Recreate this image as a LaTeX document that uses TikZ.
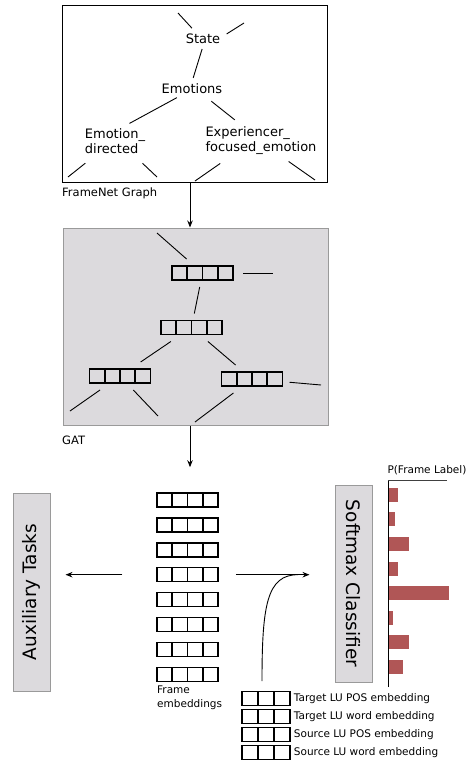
\documentclass[tikz,border=0pt]{standalone}
\usepackage{fontspec}
\setmainfont{DejaVu Sans}
\usetikzlibrary{arrows.meta,calc}
\definecolor{boxgray}{HTML}{DCDADD}
\definecolor{edgegray}{HTML}{9A9A9A}
\definecolor{barred}{HTML}{B05656}
\tikzset{
  treetxt/.style={font=\fontsize{13}{15}\selectfont, inner sep=2pt, align=left},
  lbl/.style={font=\fontsize{11.5}{13}\selectfont, inner sep=0pt, anchor=west},
  smalltxt/.style={font=\fontsize{10.5}{14}\selectfont, inner sep=0pt},
  bigtxt/.style={font=\fontsize{18.5}{22}\selectfont},
  vec/.style={draw, line width=1.5pt, minimum height=14pt, inner sep=0pt,
    path picture={\foreach \k in {1,...,#1}{\draw[line width=1.9pt]
      ($(path picture bounding box.south west)!\k/#1!(path picture bounding box.south east)$) --
      ($(path picture bounding box.north west)!\k/#1!(path picture bounding box.north east)$);}}},
  gvec/.style={vec=4, minimum width=61pt, outer sep=7pt},
  fvec/.style={vec=4, minimum width=61pt},
  lvec/.style={vec=3, minimum width=48pt},
  panel/.style={draw=edgegray, fill=boxgray, line width=1pt, inner sep=0pt},
  arr/.style={-{Stealth[length=7pt,width=5.5pt]}, line width=0.9pt},
  thin/.style={line width=0.9pt},
}
\begin{document}
\begin{tikzpicture}[x=1pt,y=-1pt]
\useasboundingbox (0,0) rectangle (469,761);

% ---------- FrameNet graph ----------
\node[draw, line width=0.9pt, minimum width=265, minimum height=177, inner sep=0pt, outer sep=0pt] (fn) at (194.5,93.5) {};
\node[treetxt] (state) at (203,39) {State};
\node[treetxt] (emo) at (192,89) {Emotions};
\node[treetxt] (ed) at (115,141) {Emotion\_\\directed};
\node[treetxt] (ef) at (261,141) {Experiencer\_\\focused\_emotion};
\node[lbl] (fnlabel) at (62,193) {FrameNet Graph};

\coordinate (d1) at (178,13);
\coordinate (d2) at (244,23);
\coordinate (d3) at (68,177);
\coordinate (d4) at (157,177);
\coordinate (d5) at (195,181);
\coordinate (d6) at (315,180);
\draw[thin, shorten >=5pt] (d1) -- (state.137);
\draw[thin, shorten >=5pt] (d2) -- (state.7);
\draw[thin, shorten <=3pt, shorten >=4pt] (state.-90) -- (emo.90);
\draw[thin, shorten <=3pt, shorten >=6pt] (emo.210) -- (ed.58);
\draw[thin, shorten <=8pt, shorten >=8pt] (emo.-29) -- (ef.141);
\draw[thin, shorten <=12pt] (ed.216) -- (d3);
\draw[thin, shorten <=11pt] (ed.-37) -- (d4);
\draw[thin, shorten <=11pt] (ef.207) -- (d5);
\draw[thin, shorten <=7.5pt] (ef.-37) -- (d6);

% ---------- GAT ----------
\node[panel, minimum width=265, minimum height=197] (gat) at (195.5,326.5) {};
\node[lbl] (gatlabel) at (62,440) {GAT};
\node[gvec] (g1) at (202.5,273) {};
\node[gvec] (g2) at (191.5,327.5) {};
\node[gvec] (g3) at (120,376) {};
\node[gvec] (g4) at (252,379) {};
\coordinate (e1) at (157,233);
\coordinate (e2) at (273,273);
\coordinate (e3) at (321,385);
\coordinate (e4) at (70,411);
\coordinate (e5) at (158,416);
\coordinate (e6) at (195,422);
\draw[thin] (e1) -- (g1);
\draw[thin, shorten <=3pt] (g1.east) -- (e2);
\draw[thin] (g1) -- (g2);
\draw[thin] (g2) -- (g3);
\draw[thin] (g2) -- (g4);
\draw[thin] (g4) -- (e3);
\draw[thin] (g3) -- (e4);
\draw[thin] (g3) -- (e5);
\draw[thin] (g4) -- (e6);

% ---------- arrows between stages ----------
\coordinate (spine) at (190,0);
\draw[arr] (fn.south -| spine) -- (gat.north -| spine);

% ---------- frame embeddings ----------
\foreach \i in {1,...,8}
  \node[fvec] (fe\i) at (187.5,{500+24.9*(\i-1)}) {};
\node[smalltxt, anchor=north west, align=left] (felabel) at (157,686) {Frame\\embeddings};
\draw[arr, shorten >=25pt] (gat.south -| spine) -- (fe1.north -| spine);

% ---------- side boxes ----------
\node[panel, rotate=90, minimum width=198, minimum height=37, bigtxt] (aux) at (31.5,592) {Auxiliary Tasks};
\node[panel, rotate=-90, minimum width=197, minimum height=37, bigtxt] (sm) at (353.5,583.5) {Softmax Classifier};
\draw[arr, shorten <=34pt, shorten >=15pt] (fe4.west) -- (fe4.west -| aux.south);
\draw[arr, shorten <=17pt, shorten >=25pt] (fe4.east) -- (fe4.east -| sm.south);

% ---------- LU embeddings ----------
\foreach \i/\t in {1/Target LU POS embedding,2/Target LU word embedding,3/Source LU POS embedding,4/Source LU word embedding}{
  \node[lvec] (lu\i) at (266,{698.5+18*(\i-1)}) {};
  \node[smalltxt, anchor=west] (lt\i) at ([xshift=3pt]lu\i.east) {\t};
}
\coordinate (cstart) at (262,681);
\coordinate (join) at (298,0);
\draw[thin] (cstart) .. controls (262,605) and (267,574.7) .. (join |- fe4.east);

% ---------- probability bars ----------
\node[smalltxt] (plabel) at (427,470) {P(Frame Label)};
\foreach \t/\r in {488/398,512/395,537/409,562/398,586/449,611/393,635/409,660/403}
  \fill[barred] (388,\t) rectangle (\r,{\t+14});
\coordinate (ax0) at (388,480);
\coordinate (ax1) at (388,687);
\coordinate (ax2) at (447,480);
\draw[line width=1pt] (ax1) -- (ax0);
\draw[line width=1pt, black!75] (ax0) -- (ax2);
\end{tikzpicture}
\end{document}
